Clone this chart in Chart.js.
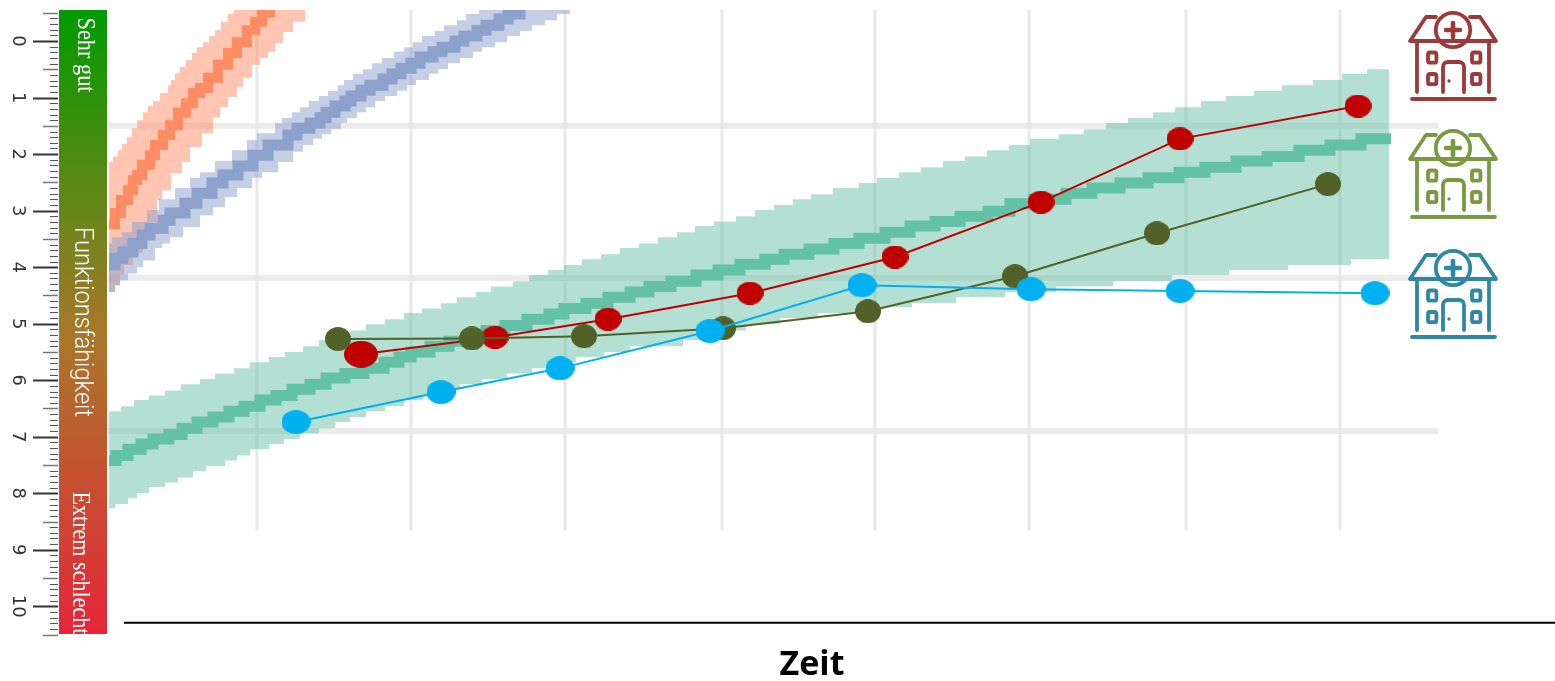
<!DOCTYPE html>
<html><head><meta charset="utf-8">
<style>html,body{margin:0;padding:0;background:#fff}canvas{display:block}</style>
<script src="https://cdn.jsdelivr.net/npm/chart.js@4"></script>
</head><body><canvas id="c" width="1555" height="681"></canvas>
<script>
const yTickValues=[0,1,2,3,4,5,6,7,8,9,10];
const xLabelTitle='Zeit';
const barLabels=['Sehr gut','Funktionsfähigkeit','Extrem schlecht'];

const redX=[361,495,608,750,895,1041,1180,1358];
const redY=[5.54,5.24,4.92,4.46,3.82,2.85,1.73,1.15];
const oliveX=[338,472,584,723,868,1015,1157,1328];
const oliveY=[5.27,5.26,5.22,5.08,4.78,4.16,3.40,2.53];
const blueX=[296,441,560,710,862,1031,1180,1375];
const blueY=[6.74,6.21,5.79,5.13,4.32,4.39,4.42,4.46];

const greenUpX=[109,121,134,149,165,181,200,215,234,250,269,285,303,319,335,350,366,385,404,422,441,457,476,491,513,529,548,564,582,601,620,639,658,677,695,714,736,755,774,793,811,833,859,877,899,921,943,965,987,1009,1030,1059,1084,1106,1128,1153,1175,1201,1226,1254,1282,1313,1342,1367,1389];
const greenUpY=[6.55,6.46,6.35,6.27,6.18,6.07,5.98,5.88,5.79,5.68,5.59,5.50,5.40,5.29,5.20,5.12,5.01,4.92,4.81,4.73,4.64,4.53,4.44,4.34,4.25,4.14,4.05,3.96,3.86,3.77,3.66,3.58,3.47,3.38,3.27,3.19,3.10,2.99,2.90,2.80,2.71,2.60,2.51,2.42,2.32,2.23,2.12,2.04,1.93,1.84,1.73,1.65,1.56,1.45,1.36,1.26,1.17,1.06,0.97,0.88,0.78,0.69,0.58,0.50,0.50];
const greenLowX=[109,115,128,137,149,165,178,193,206,225,237,250,269,284,300,319,335,350,366,385,404,423,441,460,482,507,532,554,576,604,630,683,705,725,746,780,818,855,912,956,1005,1056,1113,1172,1229,1288,1351,1389];
const greenLowY=[8.27,8.19,8.09,8.00,7.89,7.81,7.72,7.61,7.52,7.42,7.33,7.22,7.13,7.04,6.94,6.85,6.74,6.65,6.55,6.46,6.35,6.27,6.16,6.07,5.98,5.88,5.79,5.68,5.59,5.50,5.40,5.29,5.20,5.12,5.01,4.90,4.81,4.71,4.64,4.53,4.44,4.34,4.25,4.14,4.05,3.96,3.86,3.86];
const greenMidX=[109,116,128,141,153,169,182,197,213,229,244,260,276,292,310,326,345,364,384,399,411,430,449,469,486,505,527,549,564,586,608,630,649,671,696,718,740,765,784,809,834,859,885,910,935,960,988,1010,1034,1066,1092,1120,1148,1179,1205,1236,1267,1299,1330,1361,1391];
const greenMidY=[7.42,7.33,7.22,7.13,7.04,6.96,6.85,6.74,6.65,6.55,6.46,6.35,6.27,6.16,6.07,5.96,5.88,5.79,5.68,5.59,5.50,5.40,5.31,5.22,5.12,5.03,4.92,4.83,4.73,4.64,4.53,4.44,4.34,4.25,4.14,4.05,3.95,3.86,3.77,3.68,3.58,3.49,3.38,3.27,3.19,3.10,3.01,2.88,2.80,2.69,2.60,2.51,2.42,2.32,2.23,2.12,2.04,1.93,1.84,1.73,1.73];

const orangeUpX=[109,113,118,122,127,132,137,143,148,153,160,168,171,175,180,186,192,197,203,209,215,221,228,234,305];
const orangeUpY=[2.14,2.04,1.93,1.82,1.70,1.54,1.40,1.26,1.15,1.06,0.92,0.78,0.69,0.57,0.46,0.34,0.21,0.11,0.02,-0.09,-0.19,-0.34,-0.48,-0.57,-0.57];
const orangeLowX=[109,115,120,124,133,143,150,157,162,171,182,190,202,213,220,228,237,243,252,260,268,275,283,293,305];
const orangeLowY=[4.44,4.32,4.14,3.96,3.75,3.52,3.20,2.81,2.64,2.34,2.14,1.88,1.63,1.35,1.17,0.99,0.81,0.65,0.42,0.30,0.19,0.04,-0.16,-0.34,-0.57];
const orangeMidX=[109,115,121,128,133,137,142,150,155,163,170,178,186,193,200,208,218,228,237,247,255,262,270];
const orangeMidY=[3.24,3.04,2.81,2.64,2.46,2.37,2.19,2.02,1.84,1.66,1.49,1.27,1.10,0.92,0.83,0.65,0.42,0.21,0.02,-0.19,-0.34,-0.50,-0.58];

const slateUpX=[109,112,122,132,147,159,175,190,200,215,232,247,257,275,282,292,300,309,319,328,338,344,353,363,372,382,394,404,413,422,435,444,457,466,479,570];
const slateUpY=[3.58,3.47,3.38,3.20,2.99,2.80,2.60,2.42,2.32,2.12,1.93,1.75,1.63,1.45,1.36,1.26,1.17,1.06,0.97,0.88,0.78,0.69,0.58,0.50,0.39,0.30,0.19,0.11,0.02,-0.09,-0.18,-0.28,-0.37,-0.48,-0.57,-0.57];
const slateLowX=[109,115,120,128,137,143,155,162,170,183,200,213,225,237,252,262,278,293,303,313,322,331,341,347,357,366,375,385,397,407,416,429,438,448,460,473,482,495,507,520,532,545,557,570];
const slateLowY=[4.44,4.32,4.23,4.11,4.00,3.88,3.66,3.58,3.47,3.29,3.08,2.94,2.76,2.60,2.42,2.32,2.14,1.96,1.84,1.73,1.65,1.56,1.45,1.36,1.26,1.17,1.06,0.97,0.88,0.78,0.69,0.58,0.50,0.39,0.30,0.19,0.11,0.02,-0.09,-0.18,-0.28,-0.37,-0.48,-0.57];
const slateMidX=[109,115,123,133,142,150,163,170,185,197,212,223,238,253,268,288,297,310,320,326,335,345,351,361,370,383,392,401,411,420,433,442,455,464,477,486,499,508,520];
const slateMidY=[3.96,3.84,3.73,3.58,3.43,3.31,3.17,3.04,2.87,2.69,2.51,2.37,2.21,2.02,1.84,1.66,1.54,1.45,1.35,1.26,1.15,1.06,0.97,0.87,0.78,0.67,0.58,0.48,0.39,0.28,0.19,0.11,0.00,-0.09,-0.19,-0.28,-0.39,-0.48,-0.58];

const timeGrid=[257,411,565,722,875,1029,1186,1340];
const levelGrid=[1.5,4.19,6.9];

const zip=(xs,ys)=>xs.map((x,i)=>({x,y:ys[i]}));
function ell(w,h,color){
  const c=document.createElement('canvas');c.width=w;c.height=h;
  const g=c.getContext('2d');g.fillStyle=color;g.beginPath();g.ellipse(w/2,h/2,w/2,h/2,0,0,Math.PI*2);g.fill();return c;
}
const base={pointRadius:0,tension:0,fill:false,borderWidth:0};
function band(label,upX,upY,lowX,lowY,fillColor,order){
  return [
    {...base,label:label+' oben',data:zip(upX,upY),stepped:true,fill:'+1',backgroundColor:fillColor,order},
    {...base,label:label+' unten',data:zip(lowX,lowY),stepped:true,order}
  ];
}
function mid(label,xs,ys,color,w,order){
  return {...base,label,data:zip(xs,ys),stepped:true,borderColor:color,borderWidth:w,order,borderJoinStyle:'miter',borderCapStyle:'butt'};
}
function patient(label,xs,ys,color,w,h,order,first){
  const p=ell(w,h,color);
  const styles=xs.map((_,i)=>first&&i===first.i?ell(first.w,first.h,color):p);
  return {label,data:zip(xs,ys),borderColor:color,backgroundColor:color,borderWidth:2,tension:0,fill:false,pointStyle:styles,pointRadius:13,order};
}
const rules=[];
timeGrid.forEach((x,i)=>rules.push({...base,label:'t'+i,data:zip([x,x],[-0.55,8.66]),borderColor:'#e8e8e8',borderWidth:3,order:30}));
levelGrid.forEach((v,i)=>rules.push({...base,label:'l'+i,data:zip([108,1438],[v,v]),borderColor:'#ebebeb',borderWidth:6,order:30}));
rules.push({...base,label:'Achse',data:zip([124,1555],[10.29,10.29]),borderColor:'#000',borderWidth:2,order:30});

const datasets=[
  patient('Klinik blau',blueX,blueY,'#00b0f0',29,24,1),
  patient('Klinik oliv',oliveX,oliveY,'#526128',26,24,2),
  patient('Klinik rot',redX,redY,'#c00000',27,23,3,{i:0,w:34,h:27}),
  mid('Grün Mitte',greenMidX,greenMidY,'#63c1a6',11,5),
  ...band('Grün',greenUpX,greenUpY,greenLowX,greenLowY,'rgba(96,190,160,0.48)',6),
  mid('Schiefer Mitte',slateMidX,slateMidY,'#8da1cc',11,7),
  ...band('Schiefer',slateUpX,slateUpY,slateLowX,slateLowY,'rgba(138,160,205,0.5)',8),
  mid('Orange Mitte',orangeMidX,orangeMidY,'#ff8c62',10,9),
  ...band('Orange',orangeUpX,orangeUpY,orangeLowX,orangeLowY,'rgba(255,140,98,0.5)',10),
  ...rules
];

function hospital(ctx,cx,top,color){
  ctx.save();ctx.translate(cx,top);ctx.strokeStyle=color;ctx.fillStyle=color;ctx.lineWidth=3.8;ctx.lineCap='round';ctx.lineJoin='round';
  const path=(pts)=>{ctx.beginPath();pts.forEach((p,i)=>i?ctx.lineTo(p[0],p[1]):ctx.moveTo(p[0],p[1]));ctx.stroke();};
  ctx.beginPath();ctx.arc(0,19,17.2,0,Math.PI*2);ctx.stroke();
  ctx.lineWidth=4.6;path([[-7,19],[7,19]]);path([[0,12],[0,26]]);ctx.lineWidth=3.8;
  path([[-17,6],[-27,6],[-43,30],[43,30],[27,6],[17,6]]);
  path([[-36,30],[-36,81]]);path([[36,30],[36,81]]);
  [[-25,41.5],[19,41.5],[-25,63],[19,63]].forEach(r=>{ctx.beginPath();ctx.roundRect(r[0],r[1],8.4,10.2,2);ctx.stroke();});
  ctx.beginPath();ctx.moveTo(-10,81);ctx.lineTo(-10,56);ctx.arcTo(-10,51,-5,51,5);ctx.lineTo(6,51);ctx.arcTo(11,51,11,56,5);ctx.lineTo(11,81);ctx.stroke();
  ctx.beginPath();ctx.arc(-4,70,1.7,0,Math.PI*2);ctx.fill();
  ctx.lineWidth=3.8;path([[-41,88],[42,88]]);
  ctx.restore();
}
const decor={id:'decor',
  beforeDatasetsDraw(chart){
    const {ctx,scales:{y}}=chart;
    const t=y.getPixelForValue(-0.55),b=y.getPixelForValue(10.49);
    const g=ctx.createLinearGradient(0,t,0,b);
    g.addColorStop(0,'#009b00');g.addColorStop(0.52,'#a8782a');g.addColorStop(1,'#e6253a');
    ctx.save();
    ctx.fillStyle=g;ctx.fillRect(59,t,48,b-t);
    for(let i=-5;i<=105;i++){
      const py=Math.round(y.getPixelForValue(i/10))+0.5;
      const major=i%10===0,half=!major&&((i+100)%5===0);
      ctx.beginPath();ctx.moveTo(major?33:half?43:50,py);ctx.lineTo(58,py);
      ctx.strokeStyle=major?'#333':half?'#777':'#555';ctx.lineWidth=major?2:half?1.5:1;ctx.stroke();
    }
    ctx.beginPath();ctx.rect(59,t,48,b-t);ctx.clip();
    ctx.fillStyle='#fff';ctx.textBaseline='middle';
    const label=(txt,cy,cx,font,maxW)=>{ctx.save();ctx.translate(cx,cy);ctx.rotate(Math.PI/2);ctx.font=font;ctx.textAlign='center';ctx.fillText(txt,0,0,maxW);ctx.restore();};
    label(barLabels[0],55,85,'25px "Liberation Serif"',75);
    label(barLabels[1],322,81,'300 26px Roboto',190);
    label(barLabels[2],563,80,'25px "Liberation Serif"',143);
    ctx.restore();
  },
  afterDraw(chart){
    const {ctx}=chart;
    hospital(ctx,1453,11,'#9b3a3a');
    hospital(ctx,1453,129,'#7b9a3f');
    hospital(ctx,1453,249,'#2e87a3');
    ctx.save();ctx.fillStyle='#000';ctx.font='bold 34px "Open Sans"';ctx.textAlign='center';ctx.textBaseline='middle';
    ctx.fillText(xLabelTitle,812,665);ctx.restore();
  }
};
new Chart(document.getElementById('c'),{
  type:'line',
  data:{datasets},
  plugins:[decor],
  options:{
    responsive:false,animation:false,
    layout:{autoPadding:false,padding:{top:10,bottom:47,left:0,right:0}},
    plugins:{legend:{display:false},tooltip:{enabled:false},title:{display:false}},
    scales:{
      x:{type:'linear',display:false,min:108,max:1555},
      y:{type:'linear',reverse:true,min:-0.55,max:10.49,
        grid:{display:false},border:{display:false},
        afterBuildTicks(s){s.ticks=yTickValues.map(value=>({value}));},
        afterFit(s){s.width=108;s.paddingTop=0;s.paddingBottom=0;s.paddingLeft=0;s.paddingRight=0;},
        ticks:{autoSkip:false,minRotation:-90,maxRotation:-90,crossAlign:'center',padding:71,color:'#333',font:{family:'"DejaVu Sans"',size:18},callback:v=>String(v)}
      }
    }
  }
});
</script></body></html>
